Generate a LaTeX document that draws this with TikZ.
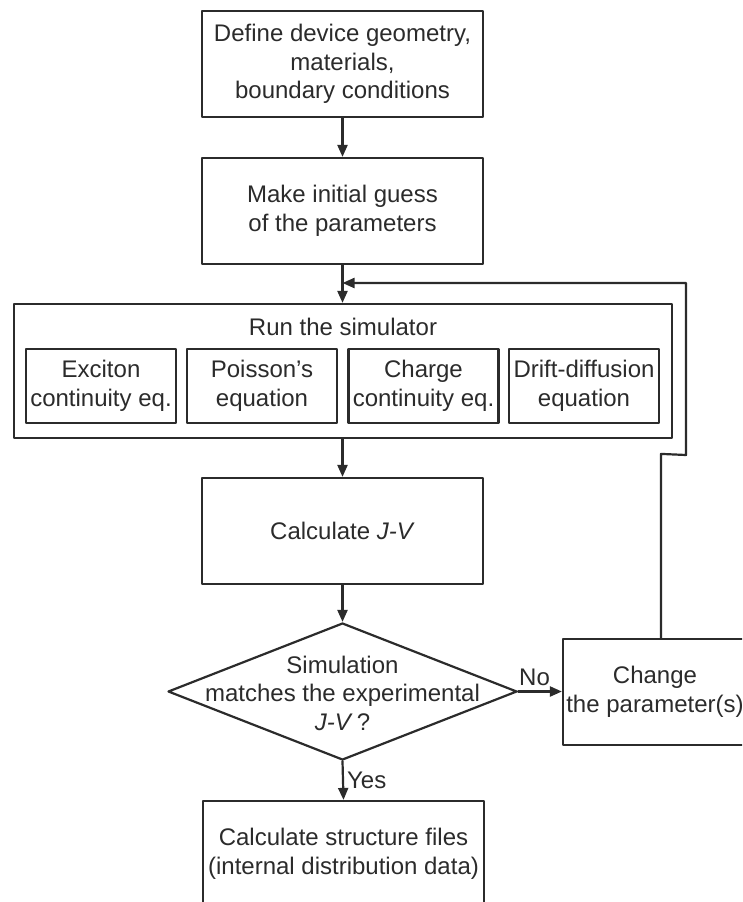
\documentclass[tikz,border=0pt]{standalone}
\usepackage{fontspec}
\setmainfont{Liberation Sans}
\usepackage{tikz}
\usetikzlibrary{shapes.geometric}
\usetikzlibrary{arrows.meta}
\definecolor{ink}{HTML}{2B2B2B}

\begin{document}
\begin{tikzpicture}[line cap=round,line join=round,>={Triangle[length=12pt,width=10pt]},x=1pt,y=-1pt, ink, line width=2.2pt,
                    every node/.style={font=\fontsize{24}{28.5}\selectfont, align=center, text=ink},
                    box/.style={draw, rectangle, minimum width=281pt, minimum height=106pt, inner sep=0pt},
                    eqbox/.style={draw, rectangle, minimum width=150pt, minimum height=74pt, inner sep=0pt},
                    test/.style={draw, diamond, minimum width=349pt, minimum height=137pt, inner sep=0pt}]
                    \path[use as bounding box, clip] (0,0) rectangle (742,902);

                    \node[box] (define) at (342.5,64) {Define device geometry,\\ materials,\\ boundary conditions};
                    \node[box] (guess) at (342.5,211) {Make initial guess\\ of the parameters};

                    % simulator block
                    \node[draw, rectangle, minimum width=658pt, minimum height=134pt, inner sep=0pt] (sim) at (343,371) {};
                    \node (run) at (343,327) {Run the simulator};
                    \node[eqbox] (exciton) at (101,386) {Exciton\\ continuity eq.};
                    \node[eqbox] (poisson) at (262,386) {Poisson's\\ equation};
                    \node[eqbox] (charge) at (423.5,386) {Charge\\ continuity eq.};
                    \node[eqbox] (drift) at (584,386) {Drift-diffusion\\ equation};

                    \node[box] (calc) at (342.5,531) {Calculate \textit{J-V}};

                    \node[test] (match) at (342.5,691.5) {};
                    \node at (342.5,693) {Simulation\\ matches the experimental\\ \textit{J-V}\,?};

                    \node[box, minimum width=184pt] (change) at (655,692) {Change\\ the parameter(s)};
                    \node[box] (final) at (343.5,854) {Calculate structure files\\ (internal distribution data)};

                    \coordinate (merge) at (342.5,283);
                    \coordinate (jog) at (686,455);

                    \draw[->] (define) -- (guess);
                    \draw[->] (guess.south) -- (guess.south |- sim.north);
                    \draw[->] (sim.south -| calc.north) -- (calc.north);
                    \draw[->] (calc) -- (match);
                    \draw[->] (match.east) -- node[pos=0, anchor=south west, inner sep=0pt, yshift=5pt] (no) {No} (change.west |- match.east);
                    \draw[->] (match.south) -- node[right, inner sep=3pt] (yes) {Yes} (final.north);

                    % back to the simulator
                    \draw[->] ([xshift=6pt]change.north) -- ++(0,-184) -- (jog) |- (merge);
                \end{tikzpicture}
\end{document}
